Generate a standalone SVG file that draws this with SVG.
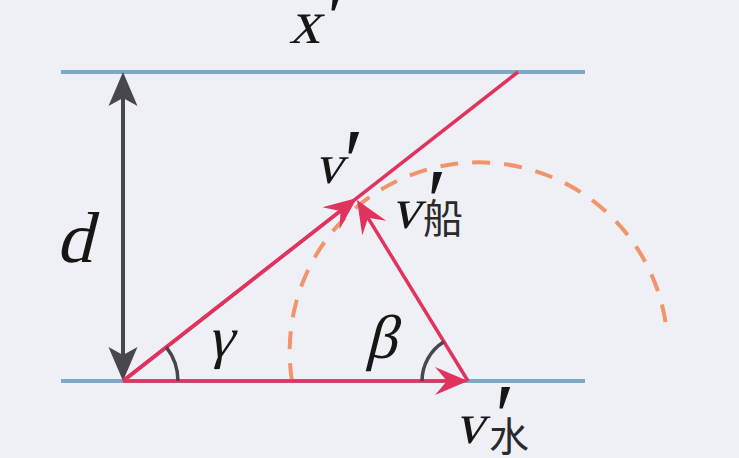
<svg xmlns="http://www.w3.org/2000/svg" width="739" height="458" viewBox="0 0 739 458">
<style>
.bank{stroke:#7ea8c8;stroke-width:4;fill:none}
.red{stroke:#e0335e;stroke-width:3.5;fill:none}
.dark{stroke:#47474d;stroke-width:4;fill:none}
.ang{stroke:#47474d;stroke-width:3.5;fill:none}
.dash{stroke:#f29469;stroke-width:4;fill:none;stroke-dasharray:18 14}
.m{fill:#161616}
.cjk{fill:#2a2a2a}
</style>
<defs>
<marker id="ahR" markerUnits="userSpaceOnUse" orient="auto-start-reverse" markerWidth="60" markerHeight="40" viewBox="-30 -20 60 40" refX="0" refY="0" overflow="visible">
<path d="M12,0 L-21,-14 L-9,0 L-21,14 Z" fill="#e0335e"/>
</marker>
<marker id="ahD" markerUnits="userSpaceOnUse" orient="auto-start-reverse" markerWidth="60" markerHeight="40" viewBox="-30 -20 60 40" refX="0" refY="0" overflow="visible">
<path d="M12,0 L-22,-14.5 L-14,0 L-22,14.5 Z" fill="#47474d"/>
</marker>
</defs>
<rect width="739" height="458" fill="#eff0f5"/>
<g id="banks">
<line class="bank" x1="61" y1="72" x2="585" y2="72"/>
<line class="bank" x1="61" y1="381" x2="585" y2="381"/>
</g>
<g id="circle">
<path class="dash" d="M292,381 A189,189 0 1 1 665.5,322"/>
</g>
<g id="connectors">
<line class="dark" x1="123" y1="84" x2="123" y2="369" marker-start="url(#ahD)" marker-end="url(#ahD)"/>
<line class="red" x1="123" y1="381" x2="518" y2="72"/>
<line class="red" x1="123" y1="381" x2="347.5" y2="205.4" marker-end="url(#ahR)"/>
<line class="red" x1="123" y1="381" x2="456" y2="381" marker-end="url(#ahR)"/>
<line class="red" x1="468" y1="381" x2="363.3" y2="210.2" marker-end="url(#ahR)"/>
<path class="ang" d="M178,381 A55,55 0 0 0 166.3,347.1"/>
<path class="ang" d="M422,381 A46,46 0 0 1 444,341.8"/>
</g>
<g id="labels">
<g transform="translate(289,43) skewX(-14)"><text class="m" x="0" y="0" font-size="62" font-family="Liberation Serif">x</text></g>
<text class="m" x="327" y="49" font-size="90" font-family="Liberation Serif">′</text>
<g transform="translate(56,262) skewX(-14)"><text class="m" x="0" y="0" font-size="72" font-family="Liberation Serif">d</text></g>
<g transform="translate(314.5,183) skewX(-14)"><text class="m" x="0" y="0" font-size="56" font-family="Liberation Serif">v</text></g>
<text class="m" x="344" y="192" font-size="90" font-family="Liberation Serif">′</text>
<g transform="translate(391,228) skewX(-14)"><text class="m" x="0" y="0" font-size="58" font-family="Liberation Serif">v</text></g>
<text class="m" x="427" y="232" font-size="90" font-family="Liberation Serif">′</text>
<g transform="translate(207,357) skewX(-14)"><text class="m" x="0" y="0" font-size="58" font-family="Liberation Serif">γ</text></g>
<g transform="translate(365,358) skewX(-14)"><text class="m" x="0" y="0" font-size="62" font-family="Liberation Serif">β</text></g>
<g transform="translate(455,443) skewX(-14)"><text class="m" x="0" y="0" font-size="58" font-family="Liberation Serif">v</text></g>
<text class="m" x="495" y="447" font-size="90" font-family="Liberation Serif">′</text>
<text class="cjk" x="423" y="233" font-size="40" font-family="Noto Sans CJK SC">船</text>
<text class="cjk" x="489" y="451" font-size="40" font-family="Noto Sans CJK SC">水</text>
</g>
</svg>
